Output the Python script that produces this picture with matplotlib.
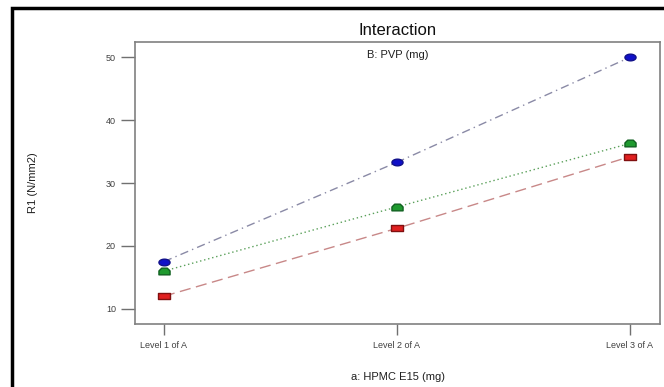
import matplotlib
matplotlib.use("Agg")
import matplotlib.pyplot as plt
import numpy as np
from matplotlib.path import Path
from matplotlib.patches import Rectangle

plt.rcParams["font.family"] = ["Liberation Sans", "DejaVu Sans"]

levels = ["Level 1 of A", "Level 2 of A", "Level 3 of A"]
blue_vals = [17.5, 33.3, 50.0]
green_vals = [16.0, 26.2, 36.3]
red_vals = [12.0, 22.8, 34.2]

fig = plt.figure(figsize=(6.64, 3.87), dpi=100)
ax = fig.add_axes([0.204, 0.163, 0.790, 0.728])

x = np.arange(1, len(levels) + 1)

t = np.linspace(0, 2 * np.pi, 40)
ellipse = Path(np.column_stack([np.cos(t), 0.6 * np.sin(t)]), closed=True)
rect = Path([(-1, -0.62), (1, -0.62), (1, 0.62), (-1, 0.62), (-1, -0.62)], closed=True)
house = Path([(-1, -0.6), (1, -0.6), (1, 0.1), (0.5, 0.6), (-0.5, 0.6), (-1, 0.1), (-1, -0.6)], closed=True)

ax.plot(x, blue_vals, linestyle=(0, (6, 3, 1, 3)), color="#8a8aa6", lw=1.0,
        marker=ellipse, markersize=8, markerfacecolor="#1010c8", markeredgecolor="#10108a", zorder=3)
ax.plot(x, green_vals, linestyle=(0, (1, 2)), color="#5aa05a", lw=1.0,
        marker=house, markersize=8, markerfacecolor="#1f9a2f", markeredgecolor="#106020", zorder=3)
ax.plot(x, red_vals, linestyle=(0, (8, 4)), color="#c88888", lw=1.0,
        marker=rect, markersize=8, markerfacecolor="#e02020", markeredgecolor="#801010", zorder=3)

ax.set_xlim(0.878, 3.129)
ax.set_ylim(7.6, 52.4)
ax.set_xticks(x)
ax.set_xticklabels(levels)
ax.set_yticks([10, 20, 30, 40, 50])

for s in ax.spines.values():
    s.set_color("#808080")
    s.set_linewidth(1.2)
ax.tick_params(axis="both", colors="#707070", labelcolor="#404040", labelsize=6.5, width=1.0)
ax.tick_params(axis="y", length=10, pad=4)
ax.tick_params(axis="x", length=8, pad=4)

ax.text(0.5, 0.955, "B: PVP (mg)", transform=ax.transAxes, ha="center", va="center",
        fontsize=8, color="#202020")
fig.text(0.599, 0.922, "Interaction", ha="center", va="center", fontsize=12, color="#101010")
fig.text(0.599, 0.025, "a: HPMC E15 (mg)", ha="center", va="center", fontsize=8, color="#202020")
fig.text(0.050, 0.527, "R1 (N/mm2)", ha="center", va="center", rotation=90, fontsize=8, color="#202020")

# outer black frame (partially visible)
fig.add_artist(Rectangle((12 / 664, -0.05), 1.05, 1 - 8 / 387 + 0.05, transform=fig.transFigure,
                         fill=False, edgecolor="black", linewidth=2.5))

fig.savefig("out.png", dpi=100)
